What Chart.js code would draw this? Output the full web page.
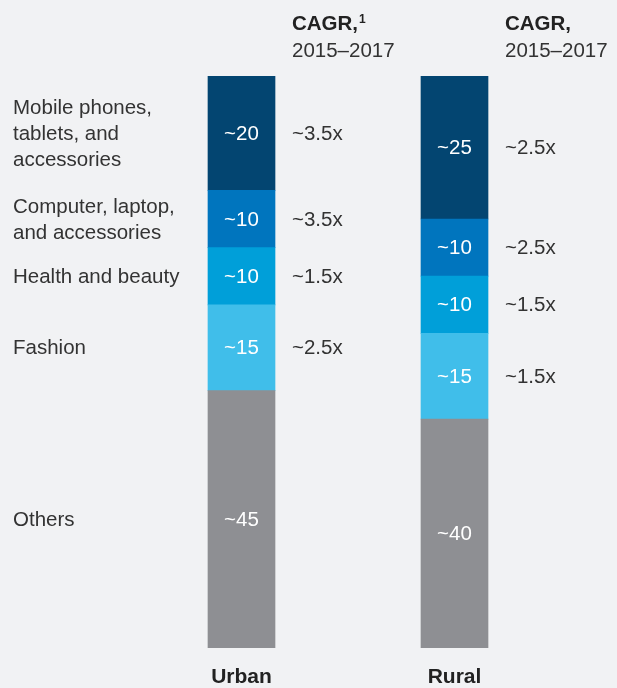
<!DOCTYPE html>
<html>
<head>
<meta charset="utf-8">
<script src="https://cdn.jsdelivr.net/npm/chart.js@4"></script>
<style>
  html, body { margin: 0; padding: 0; background: #f1f2f4; }
  #chart { display: block; }
</style>
</head>
<body>
<canvas id="chart" width="617" height="688"></canvas>
<script>
'use strict';

// share of online spend by product category, %
const categories = ['Urban', 'Rural'];
const segmentLabels = [
  ['Mobile phones,', 'tablets, and', 'accessories'],
  ['Computer, laptop,', 'and accessories'],
  ['Health and beauty'],
  ['Fashion'],
  ['Others']
];
const urbanShare = [20, 10, 10, 15, 45];
const ruralShare = [25, 10, 10, 15, 40];
const urbanCagr = ['~3.5x', '~3.5x', '~1.5x', '~2.5x', ''];
const ruralCagr = ['~2.5x', '~2.5x', '~1.5x', '~1.5x', ''];
const segmentColors = ['#034571', '#0075be', '#009fd9', '#40beea', '#8e8f93'];

const FONT = '"Liberation Sans", Arial, Helvetica, sans-serif';
const TEXT = '#333333';

let canvasElem = document.getElementById('chart');

// stack order runs bottom-up, so reverse the top-down segment lists
const datasets = segmentLabels.map((lines, i) => ({
  label: lines.join(' '),
  data: [urbanShare[i], ruralShare[i]],
  backgroundColor: segmentColors[i],
  borderWidth: 0,
  barThickness: 67,
  cagr: [urbanCagr[i], ruralCagr[i]],
  lines: lines
})).reverse();

const labelsPlugin = {
  id: 'labels',
  beforeDraw(chart) {
    const ctx = chart.ctx;
    ctx.save();
    ctx.fillStyle = '#f1f2f4';
    ctx.fillRect(0, 0, chart.width, chart.height);
    ctx.restore();
  },
  afterDatasetsDraw(chart) {
    const ctx = chart.ctx;
    const area = chart.chartArea;
    ctx.save();

    chart.data.datasets.forEach((ds, di) => {
      const meta = chart.getDatasetMeta(di);
      meta.data.forEach((bar, ci) => {
        const p = bar.getProps(['x', 'y', 'base'], true);
        const cy = (p.y + p.base) / 2 + 1;

        // value inside the bar
        ctx.font = '20.5px ' + FONT;
        ctx.fillStyle = '#ffffff';
        ctx.textAlign = 'center';
        ctx.textBaseline = 'middle';
        ctx.fillText('~' + ds.data[ci], p.x, cy);

        // growth multiple to the right of the bar
        if (ds.cagr[ci]) {
          ctx.fillStyle = TEXT;
          ctx.textAlign = 'left';
          ctx.fillText(ds.cagr[ci], p.x + 50.5, cy);
        }

        // category names on the left, lined up with the urban bar
        if (ci === 0) {
          const lh = 26;
          const top = cy - (ds.lines.length - 1) * lh / 2;
          ctx.fillStyle = TEXT;
          ctx.textAlign = 'left';
          ds.lines.forEach((line, li) => ctx.fillText(line, 13, top + li * lh));
        }
      });
    });

    // column headers and bar names
    const xScale = chart.scales.x;
    categories.forEach((cat, ci) => {
      const x = xScale.getPixelForValue(ci);
      const hx = x + 50.5;

      ctx.textAlign = 'left';
      ctx.textBaseline = 'alphabetic';
      ctx.fillStyle = '#222222';
      ctx.font = 'bold 20.5px ' + FONT;
      ctx.fillText('CAGR,', hx, 30);
      if (ci === 0) {
        const w = ctx.measureText('CAGR,').width;
        ctx.font = 'bold 12px ' + FONT;
        ctx.fillText('1', hx + w + 1, 23);
      }
      ctx.fillStyle = TEXT;
      ctx.font = '20.5px ' + FONT;
      ctx.fillText('2015–2017', hx, 57);

      ctx.fillStyle = '#222222';
      ctx.font = 'bold 21px ' + FONT;
      ctx.textAlign = 'center';
      ctx.fillText(cat, x, 683);
    });

    ctx.restore();
  }
};

function renderChart() {
  const config = {
    type: 'bar',
    data: {
      labels: categories,
      datasets: datasets
    },
    options: {
      responsive: false,
      animation: false,
      layout: {
        padding: { left: 135, right: 56, top: 76, bottom: 40 }
      },
      plugins: {
        legend: { display: false },
        tooltip: { enabled: false }
      },
      scales: {
        x: { stacked: true, display: false },
        y: { stacked: true, display: false, min: 0, max: 100 }
      }
    },
    plugins: [labelsPlugin]
  };

  new Chart(canvasElem, config);
}

renderChart();
</script>
</body>
</html>
